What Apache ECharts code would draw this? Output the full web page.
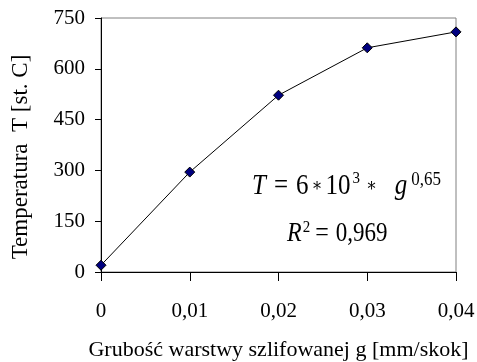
<!DOCTYPE html>
<html><head><meta charset="utf-8">
<script src="https://cdn.jsdelivr.net/npm/echarts@6/dist/echarts.min.js"></script>
<style>html,body{margin:0;padding:0;background:#fff}#c{width:477px;height:362px}</style>
</head><body><div id="c"></div>
<script>
var categories = ['0', '0,01', '0,02', '0,03', '0,04'];
var temperature = [20, 295, 522, 662, 709];
var yTicks = [0, 150, 300, 450, 600, 750];

var font = '"Liberation Serif", "Times New Roman", serif';
var rich1 = {
  it: {fontFamily: font, fontSize: 25, fontStyle: 'italic', color: '#000', lineHeight: 28},
  n: {fontFamily: font, fontSize: 25, color: '#000', lineHeight: 28},
  eq: {fontFamily: font, fontSize: 25, color: '#000', lineHeight: 28, padding: [0, 8, 0, 8]},
  ast: {fontFamily: '"DejaVu Serif", serif', fontSize: 16, color: '#000', lineHeight: 28, padding: [0, 3, 0, 3]},
  ast2: {fontFamily: '"DejaVu Serif", serif', fontSize: 16, color: '#000', lineHeight: 28, padding: [0, 18, 0, 6]},
  sup: {fontFamily: font, fontSize: 15, color: '#000', verticalAlign: 'top', lineHeight: 14, padding: [0, 0, 0, 2]},
  sup2: {fontFamily: font, fontSize: 17, color: '#000', verticalAlign: 'top', lineHeight: 15, padding: [0, 0, 0, 4]}
};
var rich2 = {
  it: {fontFamily: font, fontSize: 24, fontStyle: 'italic', color: '#000', lineHeight: 27},
  n: {fontFamily: font, fontSize: 23, color: '#000', lineHeight: 27},
  eq: {fontFamily: font, fontSize: 24, color: '#000', lineHeight: 27, padding: [0, 7, 0, 5]},
  sup: {fontFamily: font, fontSize: 15, color: '#000', verticalAlign: 'top', lineHeight: 14, padding: [0, 0, 0, 1]}
};
var chart = echarts.init(document.getElementById('c'));
chart.setOption({
  animation: false,
  backgroundColor: '#fff',
  grid: {left: 101, right: 21, top: 18, bottom: 90, outerBoundsMode: 'none', containLabel: false,
    show: true, borderColor: '#808080', borderWidth: 1},
  xAxis: {
    type: 'category', data: categories, boundaryGap: false,
    name: 'Grubość warstwy szlifowanej g [mm/skok]', nameLocation: 'middle', nameGap: 67,
    nameTextStyle: {fontFamily: font, fontSize: 22, color: '#000'},
    axisLine: {lineStyle: {color: '#000', width: 1}},
    axisTick: {show: true, length: 9, lineStyle: {color: '#000'}},
    axisLabel: {fontFamily: font, fontSize: 21, color: '#000', margin: 29},
    splitLine: {show: false}
  },
  yAxis: {
    type: 'value', min: yTicks[0], max: yTicks[yTicks.length - 1], interval: 150,
    axisLine: {show: true, lineStyle: {color: '#000', width: 1}},
    axisTick: {show: true, length: 6, lineStyle: {color: '#000'}},
    axisLabel: {fontFamily: font, fontSize: 21, color: '#000', margin: 16},
    splitLine: {show: false}
  },
  series: [{
    type: 'line', data: temperature,
    symbol: 'diamond', symbolSize: 10,
    lineStyle: {color: '#000', width: 1},
    itemStyle: {color: '#000080', borderColor: '#000', borderWidth: 1}
  }],
  graphic: [
    {type: 'text', x: 21, y: 157, rotation: Math.PI / 2, style: {
      text: 'Temperatura  T [st. C]', fontFamily: font, fontSize: 23, fill: '#000',
      align: 'center', verticalAlign: 'middle'
    }},
    {type: 'text', x: 252, y: 186, scaleY: 1.15, style: {
      rich: rich1, verticalAlign: 'middle',
      text: '{it|T}{eq|=}{n|6}{ast|∗}{n|10}{sup|3}{ast2|∗}{it|g}{sup2|0,65}'
    }},
    {type: 'text', x: 287, y: 234, scaleY: 1.15, style: {
      rich: rich2, verticalAlign: 'middle',
      text: '{it|R}{sup|2}{eq|=}{n|0,969}'
    }}
  ]
});
</script></body></html>
